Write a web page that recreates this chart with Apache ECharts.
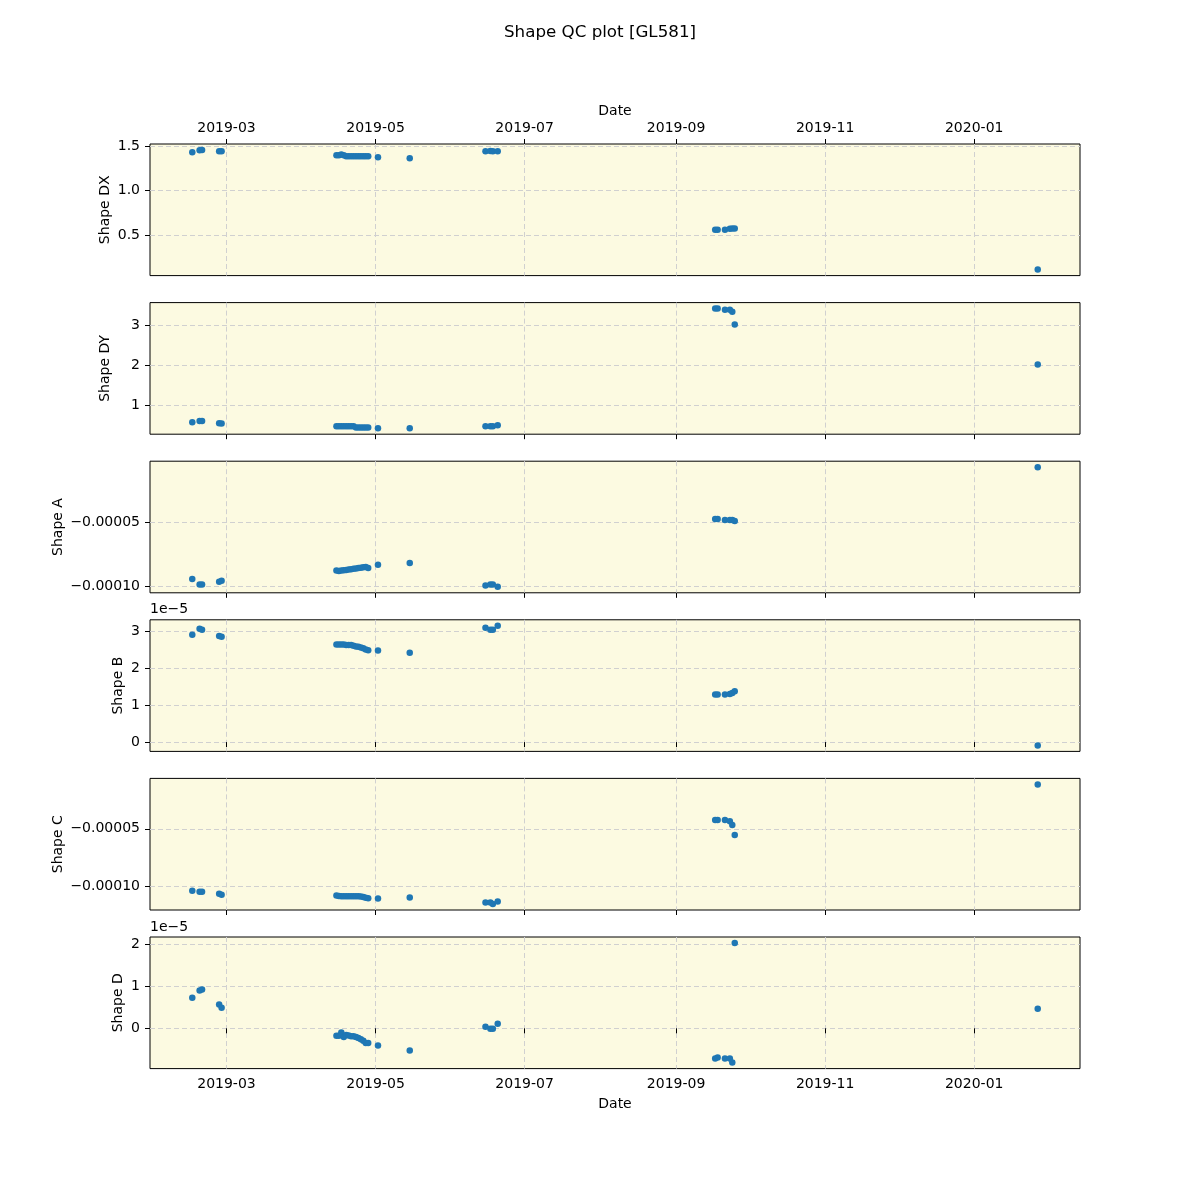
<!DOCTYPE html>
<html><head><meta charset="utf-8">
<script src="https://cdn.jsdelivr.net/npm/echarts@6/dist/echarts.min.js"></script>
<style>html,body{margin:0;padding:0;background:#fff}#c{width:1200px;height:1200px}</style>
</head><body><div id="c"></div>
<script>
const dates = ['2019-02-15','2019-02-18','2019-02-19','2019-02-26','2019-02-27',
 '2019-04-15','2019-04-16','2019-04-17','2019-04-18','2019-04-19','2019-04-20','2019-04-21','2019-04-22','2019-04-23','2019-04-24','2019-04-25','2019-04-26','2019-04-27','2019-04-28',
 '2019-05-02','2019-05-15',
 '2019-06-15','2019-06-17','2019-06-18','2019-06-20',
 '2019-09-17','2019-09-18','2019-09-21','2019-09-23','2019-09-24','2019-09-25',
 '2020-01-27'];
const shapeDX = [1.435,1.457,1.460,1.446,1.446, 1.40,1.40,1.41,1.40,1.39,1.39,1.39,1.39,1.39,1.39,1.39,1.39,1.39,1.39, 1.379,1.367, 1.446,1.448,1.446,1.446, 0.558,0.558,0.560,0.570,0.572,0.572, 0.109];
const shapeDY = [0.567,0.60,0.60,0.545,0.54, 0.47,0.47,0.47,0.47,0.47,0.47,0.47,0.47,0.44,0.44,0.44,0.44,0.44,0.44, 0.42,0.42, 0.467,0.467,0.467,0.492, 3.42,3.42,3.39,3.39,3.34,3.02, 2.02];
const shapeA = [-9.40e-5,-9.84e-5,-9.84e-5,-9.63e-5,-9.55e-5, -8.75e-5,-8.78e-5,-8.75e-5,-8.72e-5,-8.70e-5,-8.67e-5,-8.64e-5,-8.61e-5,-8.58e-5,-8.55e-5,-8.52e-5,-8.48e-5,-8.46e-5,-8.54e-5, -8.30e-5,-8.15e-5, -9.92e-5,-9.84e-5,-9.84e-5,-10.02e-5, -4.71e-5,-4.71e-5,-4.79e-5,-4.79e-5,-4.79e-5,-4.87e-5, -0.65e-5];
const shapeB = [2.91e-5,3.07e-5,3.04e-5,2.87e-5,2.85e-5, 2.64e-5,2.64e-5,2.64e-5,2.64e-5,2.63e-5,2.63e-5,2.63e-5,2.61e-5,2.59e-5,2.58e-5,2.56e-5,2.54e-5,2.51e-5,2.49e-5, 2.48e-5,2.42e-5, 3.10e-5,3.04e-5,3.04e-5,3.15e-5, 1.29e-5,1.29e-5,1.29e-5,1.30e-5,1.33e-5,1.38e-5, -0.09e-5];
const shapeC = [-10.37e-5,-10.46e-5,-10.46e-5,-10.63e-5,-10.72e-5, -10.80e-5,-10.84e-5,-10.86e-5,-10.86e-5,-10.86e-5,-10.86e-5,-10.86e-5,-10.86e-5,-10.86e-5,-10.86e-5,-10.88e-5,-10.92e-5,-10.98e-5,-11.04e-5, -11.06e-5,-10.97e-5, -11.40e-5,-11.40e-5,-11.53e-5,-11.32e-5, -4.25e-5,-4.25e-5,-4.25e-5,-4.34e-5,-4.68e-5,-5.54e-5, -1.15e-5];
const shapeD = [0.73e-5,0.905e-5,0.93e-5,0.57e-5,0.49e-5, -0.175e-5,-0.175e-5,-0.10e-5,-0.21e-5,-0.16e-5,-0.17e-5,-0.19e-5,-0.19e-5,-0.21e-5,-0.23e-5,-0.26e-5,-0.30e-5,-0.35e-5,-0.35e-5, -0.41e-5,-0.53e-5, 0.04e-5,-0.01e-5,-0.01e-5,0.11e-5, -0.72e-5,-0.70e-5,-0.72e-5,-0.72e-5,-0.82e-5,2.04e-5, 0.47e-5];

const xTickLabels = ['2019-03','2019-05','2019-07','2019-09','2019-11','2020-01'];
const dxTicks = [0.5,1.0,1.5], dxTickLabels = ['0.5','1.0','1.5'];
const dyTicks = [1,2,3], dyTickLabels = ['1','2','3'];
const aTicks = [-0.0001,-0.00005], aTickLabels = ['\u22120.00010','\u22120.00005'];
const bTicks = [0,1e-5,2e-5,3e-5], bTickLabels = ['0','1','2','3'];
const cTicks = [-0.0001,-0.00005], cTickLabels = ['\u22120.00010','\u22120.00005'];
const dTicks = [0,1e-5,2e-5], dTickLabels = ['0','1','2'];

const FONT = 'DejaVu Sans';
const ts = dates.map(d => new Date(d + 'T00:00:00').getTime());
const xTickVals = xTickLabels.map(m => new Date(m + '-01T00:00:00').getTime());
const tMin = Math.min(...ts), tMax = Math.max(...ts), tPad = (tMax - tMin) * 0.05;
const xMin = tMin - tPad, xMax = tMax + tPad;

const panels = [
  {name:'Shape DX', values:shapeDX, ticks:dxTicks, labels:dxTickLabels, gap:38, off:false},
  {name:'Shape DY', values:shapeDY, ticks:dyTicks, labels:dyTickLabels, gap:38, off:false},
  {name:'Shape A', values:shapeA, ticks:aTicks, labels:aTickLabels, gap:85, off:false},
  {name:'Shape B', values:shapeB, ticks:bTicks, labels:bTickLabels, gap:25, off:true},
  {name:'Shape C', values:shapeC, ticks:cTicks, labels:cTickLabels, gap:85, off:false},
  {name:'Shape D', values:shapeD, ticks:dTicks, labels:dTickLabels, gap:25, off:true}
];
const top0 = 144, step = 158.6, h = 131.6;
const grids = [], xAxes = [], yAxes = [], series = [], graphics = [];
const gridLine = {show:true, lineStyle:{type:[5,3], color:'#d0d0d0', width:1}};
const txt = {color:'#000', fontSize:14, fontFamily:FONT};
function lookup(ticks, labels, v){
  for (let j=0;j<ticks.length;j++){ if (Math.abs(ticks[j]-v) <= Math.abs(ticks[j])*1e-6 + 1e-15) return labels[j]; }
  return '';
}
panels.forEach((p,i) => {
  const top = top0 + i*step;
  grids.push({left:150, width:930, top:top, height:h, show:true, backgroundColor:'#fcfae1', borderColor:'#000', borderWidth:1, containLabel:false});
  const lo = Math.min(...p.values), hi = Math.max(...p.values), pad = (hi-lo)*0.05;
  const labeled = (i===0 || i===5);
  xAxes.push({type:'value', gridIndex:i, min:xMin, max:xMax, position: i===0 ? 'top' : 'bottom', scale:true,
    axisLine:{show:false},
    axisTick:{show:true, length:5, inside:false, customValues:xTickVals, lineStyle:{color:'#000'}},
    axisLabel:{show:labeled, customValues:xTickVals, margin:9, ...txt,
      formatter: v => lookup(xTickVals, xTickLabels, v)},
    splitLine:gridLine,
    name: labeled ? 'Date' : '', nameLocation:'middle', nameGap: i===0 ? 26 : 29, nameMoveOverlap:false, nameTextStyle:txt});
  yAxes.push({type:'value', gridIndex:i, min:lo-pad, max:hi+pad, scale:true,
    axisLine:{show:false},
    axisTick:{show:true, length:5, inside:false, customValues:p.ticks, lineStyle:{color:'#000'}},
    axisLabel:{customValues:p.ticks, margin:10, ...txt, formatter: v => lookup(p.ticks, p.labels, v)},
    splitLine:gridLine,
    name:p.name, nameLocation:'middle', nameRotate:90, nameGap:p.gap, nameMoveOverlap:false, nameTextStyle:txt});
  series.push({type:'scatter', xAxisIndex:i, yAxisIndex:i, symbolSize:6.5, itemStyle:{color:'#1f77b4', opacity:1},
    data: ts.map((t,k) => [t, p.values[k]])});
  if (p.off) graphics.push({type:'text', left:150, top: top - 17, style:{text:'1e\u22125', font:'14px "DejaVu Sans"', fill:'#000'}});
});

const chart = echarts.init(document.getElementById('c'), null, {renderer:'canvas'});
chart.setOption({
  animation:false,
  backgroundColor:'#fff',
  title:{text:'Shape QC plot [GL581]', left:'center', top:19, textStyle:{fontSize:16.7, fontWeight:'normal', fontFamily:FONT, color:'#000'}},
  grid:grids, xAxis:xAxes, yAxis:yAxes, series:series, graphic:graphics
});
</script></body></html>
